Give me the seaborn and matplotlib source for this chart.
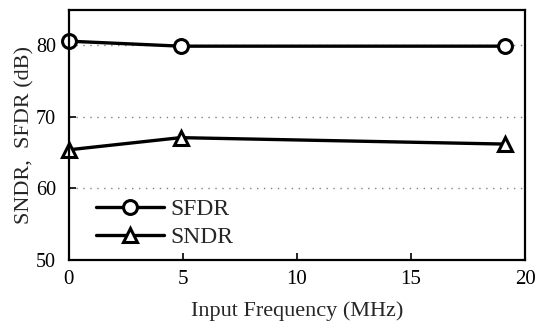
import matplotlib
matplotlib.use("Agg")
import matplotlib.pyplot as plt
import seaborn as sns
import pandas as pd

freq_sfdr = [0.0, 4.9, 19.1]
sfdr = [80.6, 79.9, 79.9]
freq_sndr = [0.0, 4.9, 19.1]
sndr = [65.4, 67.1, 66.2]
series_names = ["SFDR", "SNDR"]
x_ticks = [0, 5, 10, 15, 20]
y_ticks = [50, 60, 70, 80]

df = pd.DataFrame({
    "freq": freq_sfdr + freq_sndr,
    "val": sfdr + sndr,
    "series": [series_names[0]] * len(sfdr) + [series_names[1]] * len(sndr),
})

sns.set_style("ticks")
plt.rcParams["font.family"] = ["Liberation Serif", "DejaVu Serif"]

fig, ax = plt.subplots(figsize=(5.37, 3.24), dpi=100)
sns.lineplot(data=df, x="freq", y="val", style="series", markers={"SFDR": "o", "SNDR": "^"},
             dashes=False, color="black", linewidth=2.4, markersize=10,
             markerfacecolor="white", markeredgecolor="black", markeredgewidth=2.2,
             ax=ax, legend=True, clip_on=False)

ax.set_xlim(0, 20)
ax.set_ylim(50, 85)
ax.set_xticks(x_ticks)
ax.set_yticks(y_ticks)
ax.tick_params(direction="in", labelsize=15, width=1.2, length=5, colors="black")
ax.tick_params(axis="y", labelsize=14.5, pad=9)
ax.tick_params(axis="x", pad=7)
for s in ax.spines.values():
    s.set_linewidth(1.6)
    s.set_color("black")
for yv in [60, 70, 80]:
    ax.axhline(yv, color="gray", linestyle=(0, (1, 4)), linewidth=1.0, zorder=0)
ax.set_xlabel("Input Frequency (MHz)", fontsize=16, labelpad=9)
ax.set_ylabel("SNDR,  SFDR (dB)", fontsize=16, labelpad=1)

leg = ax.legend(loc="lower left", frameon=False, fontsize=17, handlelength=2.9,
                handletextpad=0.25, borderaxespad=0.0, labelspacing=0.25,
                bbox_to_anchor=(0.038, 0.01))

fig.subplots_adjust(left=0.128, right=0.978, top=0.97, bottom=0.198)
fig.savefig("out.png", dpi=100)
